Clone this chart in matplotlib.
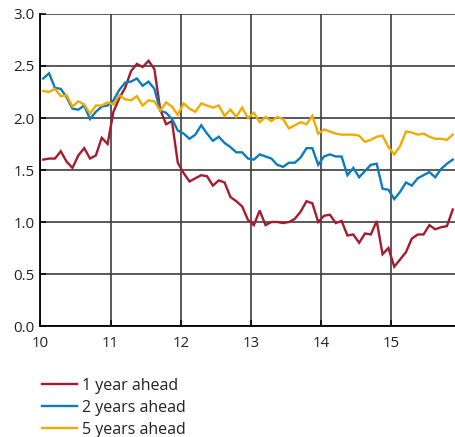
import matplotlib
matplotlib.use("Agg")
import matplotlib.pyplot as plt
import numpy as np

plt.rcParams['font.family'] = ['Open Sans', 'DejaVu Sans']

year_ticks = [10, 11, 12, 13, 14, 15]
year_labels = ["10", "11", "12", "13", "14", "15"]
y_ticks = [0.0, 0.5, 1.0, 1.5, 2.0, 2.5, 3.0]
y_labels = ["0.0", "0.5", "1.0", "1.5", "2.0", "2.5", "3.0"]

series_names = ["1 year ahead", "2 years ahead", "5 years ahead"]
series_colors = ["#A51C30", "#0A7CC1", "#F0AB00"]

one_year = [1.60, 1.61, 1.61, 1.68, 1.58, 1.52, 1.64, 1.71, 1.61, 1.64, 1.81, 1.75,
            2.06, 2.19, 2.29, 2.45, 2.52, 2.49, 2.55, 2.47, 2.08, 1.94, 1.97, 1.57,
            1.47, 1.39, 1.42, 1.45, 1.44, 1.35, 1.40, 1.38, 1.24, 1.20, 1.15, 1.02,
            0.97, 1.11, 0.97, 1.00, 1.00, 0.99, 1.00, 1.03, 1.10, 1.20, 1.18, 1.00,
            1.06, 1.07, 0.99, 1.01, 0.87, 0.88, 0.80, 0.89, 0.88, 1.01, 0.69, 0.75,
            0.57, 0.64, 0.71, 0.84, 0.88, 0.88, 0.97, 0.93, 0.95, 0.96, 1.12]
two_years = [2.38, 2.43, 2.29, 2.28, 2.20, 2.09, 2.08, 2.12, 1.99, 2.06, 2.11, 2.12,
             2.17, 2.27, 2.34, 2.35, 2.38, 2.31, 2.35, 2.28, 2.07, 2.05, 1.99, 1.88,
             1.85, 1.80, 1.84, 1.93, 1.85, 1.78, 1.82, 1.76, 1.72, 1.67, 1.67, 1.61,
             1.60, 1.65, 1.63, 1.61, 1.55, 1.53, 1.57, 1.57, 1.62, 1.71, 1.71, 1.55,
             1.63, 1.65, 1.63, 1.63, 1.45, 1.52, 1.43, 1.49, 1.55, 1.56, 1.32, 1.31,
             1.22, 1.29, 1.38, 1.35, 1.42, 1.45, 1.48, 1.43, 1.51, 1.56, 1.60]
five_years = [2.26, 2.25, 2.28, 2.21, 2.22, 2.11, 2.16, 2.13, 2.04, 2.12, 2.12, 2.15,
              2.13, 2.22, 2.18, 2.17, 2.21, 2.12, 2.17, 2.16, 2.07, 2.15, 2.11, 2.03,
              2.14, 2.09, 2.06, 2.14, 2.12, 2.10, 2.12, 2.02, 2.08, 2.01, 2.10, 2.00,
              2.05, 1.96, 2.01, 1.97, 2.01, 1.99, 1.90, 1.93, 1.96, 1.94, 2.02, 1.85,
              1.89, 1.87, 1.85, 1.84, 1.84, 1.84, 1.83, 1.77, 1.79, 1.82, 1.83, 1.72,
              1.65, 1.73, 1.87, 1.86, 1.84, 1.85, 1.82, 1.80, 1.80, 1.79, 1.84]

n = len(one_year)
x = 10 + (np.arange(n) + 0.5) / 12.0

fig = plt.figure(figsize=(4.55, 4.37), dpi=100)
ax = fig.add_axes([40.3 / 455, 111 / 437, (455 - 40.3) / 455, (326 - 14) / 437])

for vals, name, col in zip([one_year, two_years, five_years], series_names, series_colors):
    ax.plot(x, vals, color=col, lw=1.7, label=name, solid_joinstyle='miter', zorder=3)

ax.set_xlim(10, 15.907)
ax.set_ylim(0, 3.0)
ax.set_xticks(year_ticks)
ax.set_xticklabels(year_labels)
ax.set_yticks(y_ticks)
ax.set_yticklabels(y_labels)
ax.grid(True, color="#3d3d3d", lw=1.2, zorder=1)
ax.set_axisbelow(True)
for s in ["top", "right"]:
    ax.spines[s].set_visible(False)
for s in ["left", "bottom"]:
    ax.spines[s].set_color("black")
    ax.spines[s].set_linewidth(1.3)
ax.tick_params(axis='both', direction='in', length=4, width=1.1, colors='black',
               labelsize=10.8, labelcolor='#222222')
ax.tick_params(axis='x', pad=7)
ax.tick_params(axis='y', pad=4)

leg = fig.legend(loc='upper left', bbox_to_anchor=(42 / 455, 1 - 378 / 437),
                 frameon=False, fontsize=11.5, handlelength=2.2, handletextpad=0.3,
                 labelspacing=0.36, borderpad=0, borderaxespad=0)
for t in leg.get_texts():
    t.set_color('#222222')

fig.savefig("out.png", dpi=100)
